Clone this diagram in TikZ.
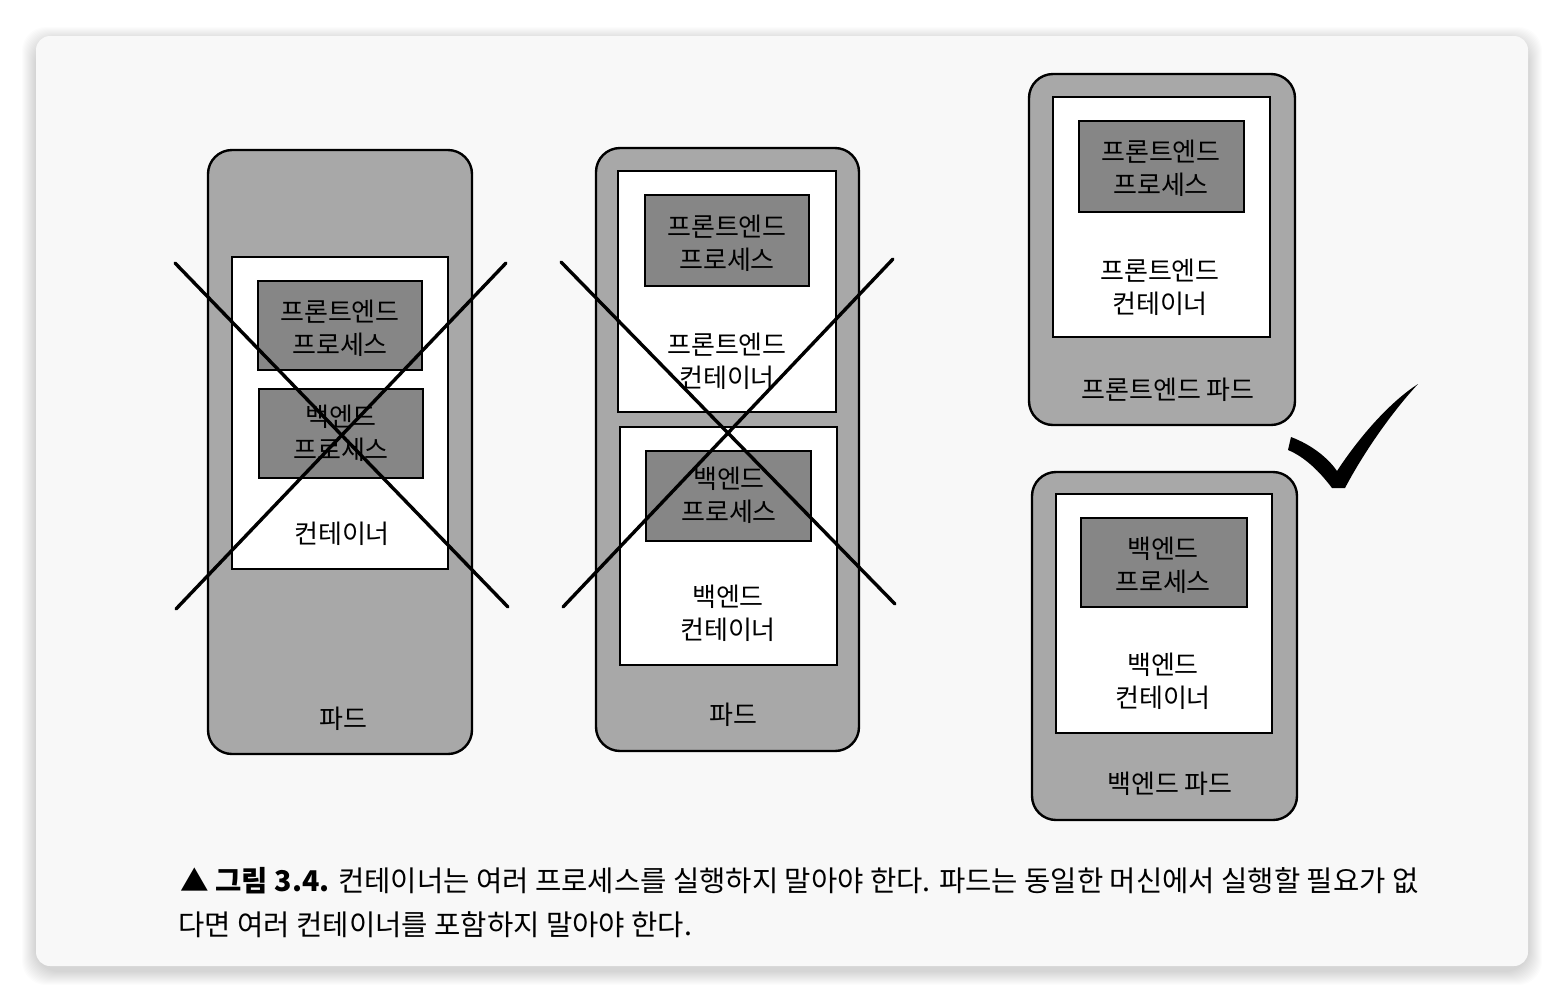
\documentclass[tikz,border=0pt]{standalone}
\usepackage{fontspec}
\setmainfont{Noto Sans CJK KR}
\usetikzlibrary{fit}

\definecolor{podgray}{RGB}{168,168,168}
\definecolor{procgray}{RGB}{134,134,134}
\definecolor{paper}{RGB}{248,248,248}

\tikzset{
  pod/.style={draw=black, line width=1.2pt, fill=podgray, rounded corners=12pt, inner sep=0pt},
  ctr/.style={draw=black, line width=1.2pt, fill=white, inner sep=0pt},
  proc/.style={draw=black, line width=1.2pt, fill=procgray, inner sep=0pt},
  lbl/.style={font=\fontsize{13}{16.5}\selectfont, align=center, inner sep=0pt},
  capline/.style={font=\fontsize{14.3}{22}\selectfont, anchor=base west, inner sep=0pt},
  cross/.style={line width=1.7pt, line cap=round},
}

\begin{document}
\begin{tikzpicture}[x=0.5pt, y=-0.5pt]

  \useasboundingbox (0,0) rectangle (1564,1002);
  \fill[white] (0,0) rectangle (1564,1002);

  % shadow and card
  \foreach \s in {1,...,14}
    \fill[black, opacity=0.012, rounded corners=12pt]
      (36-\s,36-\s+5) rectangle (1528+\s,966+\s+5);
  \fill[paper, rounded corners=7pt] (36,36) rectangle (1528,966);

  % pod with one container
  \node[pod, fit={(208,150) (472,754)}] (pod1) {};
  \node[ctr, fit={(232,257) (448,569)}] (c1) {};
  \node[proc, fit={(258,281) (422,370)}] (p1f) {};
  \node[proc, fit={(259,389) (423,478)}] (p1b) {};
  \node[lbl] at (340,328) {프론트엔드\\프로세스};
  \node[lbl] at (341,433) {백엔드\\프로세스};
  \node[lbl] (c1t) at (342,534) {컨테이너};
  \node[lbl] (pod1t) at (343,719) {파드};
  \draw[cross] (175,263) -- (508,607);
  \draw[cross] (506,263) -- (176,609);

  % pod with two containers
  \node[pod, fit={(596,148) (859,751)}] (pod2) {};
  \node[ctr, fit={(618,171) (836,412)}] (c2f) {};
  \node[proc, fit={(645,195) (809,286)}] (p2f) {};
  \node[ctr, fit={(620,427) (837,665)}] (c2b) {};
  \node[proc, fit={(646,451) (811,541)}] (p2b) {};
  \node[lbl] at (727,243) {프론트엔드\\프로세스};
  \node[lbl] (c2ft) at (727,361) {프론트엔드\\컨테이너};
  \node[lbl] at (729,495) {백엔드\\프로세스};
  \node[lbl] (c2bt) at (728,613) {백엔드\\컨테이너};
  \node[lbl] (pod2t) at (733,715) {파드};
  \draw[cross] (561,262) -- (895,604);
  \draw[cross] (893,259) -- (563,607);

  % frontend pod
  \node[pod, fit={(1029,74) (1295,425)}] (pod3) {};
  \node[ctr, fit={(1053,97) (1270,337)}] (c3) {};
  \node[proc, fit={(1079,121) (1244,212)}] (p3) {};
  \node[lbl] at (1161,168) {프론트엔드\\프로세스};
  \node[lbl] (c3t) at (1160,287) {프론트엔드\\컨테이너};
  \node[lbl] (pod3t) at (1168,390) {프론트엔드 파드};

  % backend pod
  \node[pod, fit={(1032,472) (1297,820)}] (pod4) {};
  \node[ctr, fit={(1056,494) (1272,733)}] (c4) {};
  \node[proc, fit={(1081,518) (1247,607)}] (p4) {};
  \node[lbl] at (1163,565) {백엔드\\프로세스};
  \node[lbl] (c4t) at (1163,681) {백엔드\\컨테이너};
  \node[lbl] (pod4t) at (1170,784) {백엔드 파드};

  % check mark
  \fill (1291,437) .. controls (1312,445) and (1328,458) .. (1337,471)
    .. controls (1360,436) and (1390,402) .. (1418,384)
    .. controls (1392,412) and (1364,452) .. (1345,488)
    -- (1332,488) .. controls (1320,472) and (1305,457) .. (1288,450) -- cycle;

  % caption
  \node[capline] (cap1) at (180,891) {\textbf{▲ 그림 3.4.} 컨테이너는 여러 프로세스를 실행하지 말아야 한다. 파드는 동일한 머신에서 실행할 필요가 없};
  \node[capline] (cap2) at (178,935) {다면 여러 컨테이너를 포함하지 말아야 한다.};

\end{tikzpicture}
\end{document}
